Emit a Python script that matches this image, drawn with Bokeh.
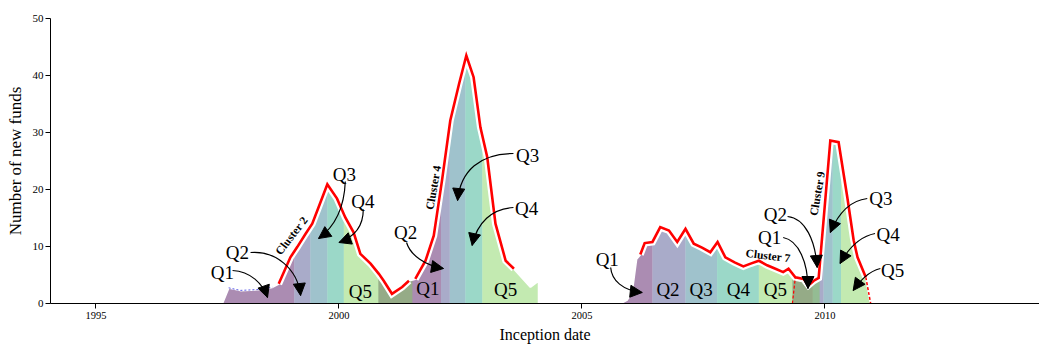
import numpy as np
from bokeh.plotting import figure
from bokeh.models import Range1d, FixedTicker, Arrow, NormalHead, ColumnDataSource
from bokeh.core.properties import value
from bokeh.embed import file_html
from bokeh.resources import INLINE

# ---------------- data ----------------
# number of new funds (total), 1997-2004 episode
dates_a = [1997.60, 1997.73, 1997.97, 1998.34, 1998.63, 1998.76, 1999.00, 1999.14, 1999.31,
           1999.45, 1999.58, 1999.76, 1999.96, 2000.13, 2000.30, 2000.44, 2000.65, 2000.82,
           2000.92, 2001.09, 2001.30, 2001.44, 2001.57, 2001.78, 2001.95, 2002.12, 2002.29,
           2002.47, 2002.62, 2002.77, 2002.91, 2003.05, 2003.22, 2003.43, 2003.60, 2003.94,
           2004.11, 2004.11]
counts_a = [0, 2.75, 2.3, 2.45, 2.86, 3.45, 8.1, 9.9, 12.2,
            14.0, 16.9, 20.9, 18.4, 15.1, 12.5, 8.7, 7.0, 5.2,
            4.0, 1.7, 2.9, 4.0, 4.3, 7.5, 11.9, 21.6, 32.1,
            38.5, 43.5, 39.7, 30.9, 25.7, 14.0, 7.5, 6.1, 2.9,
            4.0, 0]
# 2005-2011 episode
dates_b = [2005.79, 2005.93, 2006.03, 2006.07, 2006.12, 2006.20, 2006.29, 2006.45, 2006.61,
           2006.79, 2006.96, 2007.13, 2007.30, 2007.47, 2007.64, 2007.79, 2007.95, 2008.14,
           2008.32, 2008.47, 2008.64, 2008.81, 2008.98, 2009.14, 2009.25, 2009.39, 2009.56,
           2009.66, 2009.77, 2009.87, 2010.11, 2010.28, 2010.46, 2010.59, 2010.67, 2010.84,
           2010.94]
counts_b = [0, 0.65, 2.0, 4.6, 7.8, 8.6, 10.6, 10.8, 13.4,
            12.8, 10.8, 13.1, 10.5, 9.8, 9.0, 10.8, 8.1, 7.2,
            6.5, 7.0, 7.5, 6.7, 6.1, 5.5, 6.1, 4.6, 4.3,
            3.2, 4.0, 4.5, 28.6, 28.3, 18.6, 11.1, 8.1, 4.6,
            0]

# clusters: start, quintile boundaries, end (inception dates)
cluster_names = ["Cluster 2", "Cluster 4", "Cluster 7", "Cluster 9"]
cluster2_bounds = [1997.60, 1999.08, 1999.41, 1999.76, 2000.10, 2001.51]
cluster4_bounds = [2000.81, 2002.10, 2002.28, 2002.60, 2002.95, 2004.11]
cluster7_bounds = [2005.79, 2006.45, 2007.13, 2007.78, 2008.64, 2009.89]
cluster9_bounds = [2009.33, 2009.75, 2009.97, 2010.16, 2010.33, 2010.94]
quintiles = ["Q1", "Q2", "Q3", "Q4", "Q5"]
quintile_colors = ["#440154", "#414487", "#2A788E", "#22A884", "#7AD151"]

# periods in which the cluster's curve is drawn in red
red_windows = [(1998.76, 2001.44), (2001.57, 2003.60), (2006.20, 2010.84)]
blue_dashed_window = (1997.70, 1998.70)

# annotation labels (x, y in data units)
q_label_text = ["Q1", "Q2", "Q3", "Q4", "Q5",
                "Q1", "Q2", "Q3", "Q4", "Q5",
                "Q1", "Q2", "Q3", "Q4", "Q5",
                "Q1", "Q2", "Q3", "Q4", "Q5"]
q_label_x = [1997.60, 1997.91, 2000.11, 2000.49, 2000.44,
             2001.83, 2001.37, 2003.88, 2003.86, 2003.43,
             2005.52, 2006.77, 2007.45, 2008.22, 2008.98,
             2008.86, 2008.98, 2011.15, 2011.30, 2011.39]
q_label_y = [5.44, 8.95, 22.63, 17.81, 2.19,
             2.63, 12.46, 25.96, 16.67, 2.54,
             7.72, 2.46, 2.46, 2.46, 2.46,
             11.58, 15.61, 18.42, 12.19, 5.79]

cluster_label_x = [1999.02, 2001.94, 2008.83, 2009.84]
cluster_label_y = [11.93, 20.35, 8.42, 19.30]
cluster_label_angle_deg = [52, 80, -7, 80]

# curved arrows: start, control 1, control 2, tip
arrow_x0 = [1997.81, 1998.18, 2000.13, 2000.50, 2001.39, 2003.59, 2003.59, 2005.59, 2009.23, 2009.14, 2010.87, 2011.03, 2011.14]
arrow_y0 = [5.79, 8.95, 21.40, 16.49, 10.70, 26.32, 16.84, 6.32, 15.26, 11.58, 18.42, 12.28, 6.14]
arrow_cx0 = [1998.18, 1998.69, 2000.11, 2000.50, 2001.47, 2002.91, 2003.15, 2005.61, 2009.60, 2009.46, 2010.52, 2010.72, 2010.89]
arrow_cy0 = [5.61, 9.30, 17.19, 13.68, 8.42, 26.32, 16.67, 4.04, 14.91, 11.05, 18.07, 11.75, 5.61]
arrow_cx1 = [1998.43, 1999.15, 1999.95, 2000.34, 2001.78, 2002.50, 2002.84, 2005.84, 2009.80, 2009.65, 2010.28, 2010.48, 2010.73]
arrow_cy1 = [3.51, 6.14, 13.68, 11.75, 6.67, 23.33, 14.21, 2.28, 11.05, 7.19, 15.96, 9.65, 4.04]
arrow_x1 = [1998.53, 1999.21, 1999.58, 2000.00, 2002.15, 2002.44, 2002.74, 2006.24, 2009.84, 2009.65, 2010.11, 2010.31, 2010.58]
arrow_y1 = [1.05, 1.40, 11.40, 10.70, 6.14, 18.07, 10.18, 1.93, 6.32, 2.63, 12.46, 7.02, 2.28]

# ---------------- figure ----------------
Y_MAX = 50.0
FONT = "Liberation Serif"

p = figure(width=1039, height=347, output_backend="svg", toolbar_location=None,
           x_range=Range1d(1994.064, 2014.414), y_range=Range1d(0, Y_MAX),
           min_border_left=50, min_border_right=0, min_border_top=18, min_border_bottom=44)
p.outline_line_color = None
p.xgrid.visible = False
p.ygrid.visible = False
p.background_fill_color = "white"

sections = [(np.array(dates_a), np.array(counts_a)), (np.array(dates_b), np.array(counts_b))]
all_bounds = [cluster2_bounds, cluster4_bounds, cluster7_bounds, cluster9_bounds]
band_top = max(max(counts_a), max(counts_b)) + 3

# quintile bands (masked above the curve); Q1 drawn first, Q5 last
for q in range(5):
    p.quad(left=[b[q] for b in all_bounds], right=[b[q + 1] for b in all_bounds],
           bottom=0, top=band_top, fill_color=quintile_colors[q], fill_alpha=0.45,
           line_color=None)

# white mask above the curve
for d, c in sections:
    mx = list(d) + [d[-1], d[0]]
    my = list(c) + [2 * Y_MAX, 2 * Y_MAX]
    p.patch(mx, my, fill_color="white", line_color="white", line_width=2)

# blue dashed edge at the start of cluster 2
for d, c in sections:
    m = (d >= blue_dashed_window[0]) & (d <= blue_dashed_window[1])
    if m.sum() > 1:
        p.line(d[m], c[m], line_color="#5a5ae6", line_width=1, line_dash="2 2")

# red curves with a white halo
for (w0, w1) in red_windows:
    for d, c in sections:
        m = (d >= w0) & (d <= w1)
        if m.sum() > 1:
            p.line(d[m], c[m], line_color="white", line_width=7, line_join="miter")
            p.line(d[m], c[m], line_color="#ff0000", line_width=2.6, line_join="miter")

# red dashed edges of cluster 9
db, cb = sections[1]
i_start = int(np.searchsorted(db, cluster9_bounds[0]))
p.line([cluster9_bounds[0], db[i_start]], [0, cb[i_start]], line_color="#ff0000",
       line_width=1.2, line_dash="3 2")
p.line(db[-2:], cb[-2:], line_color="#ff0000", line_width=1.5, line_dash="3 2")

# arrows
p.bezier(x0=arrow_x0, y0=arrow_y0, x1=arrow_x1, y1=arrow_y1,
         cx0=arrow_cx0, cy0=arrow_cy0, cx1=arrow_cx1, cy1=arrow_cy1,
         line_color="black", line_width=1.2)
ax1 = np.array(arrow_x1); ay1 = np.array(arrow_y1)
acx = np.array(arrow_cx1); acy = np.array(arrow_cy1)
head_src = ColumnDataSource(dict(xs=ax1 - 0.25 * (ax1 - acx), ys=ay1 - 0.25 * (ay1 - acy),
                                 xe=ax1, ye=ay1))
p.add_layout(Arrow(end=NormalHead(size=12, fill_color="black", line_color="black", line_width=1),
                   source=head_src, x_start="xs", y_start="ys", x_end="xe", y_end="ye",
                   line_color="black", line_width=1.2))

# labels
p.text(x=q_label_x, y=q_label_y, text=q_label_text, text_font=value(FONT),
       text_font_size="19px", text_align="center", text_baseline="middle", text_color="black")
p.text(x=cluster_label_x, y=cluster_label_y, text=cluster_names, text_font=value(FONT),
       text_font_size="11.5px", text_font_style="bold", text_align="center",
       text_baseline="middle", text_color="black",
       angle=[np.deg2rad(a) for a in cluster_label_angle_deg])

# axes
p.xaxis.ticker = FixedTicker(ticks=[1995, 2000, 2005, 2010])
p.yaxis.ticker = FixedTicker(ticks=[0, 10, 20, 30, 40, 50])
for ax in (p.xaxis, p.yaxis):
    ax.minor_tick_line_color = None
    ax.major_tick_in = 0
    ax.major_tick_out = 5
    ax.axis_line_color = "black"
    ax.major_tick_line_color = "black"
    ax.major_label_text_font = FONT
    ax.major_label_text_color = "black"
    ax.axis_label_text_font = FONT
    ax.axis_label_text_font_style = "normal"
    ax.axis_label_text_color = "black"
p.xaxis.major_label_text_font_size = "10.5px"
p.yaxis.major_label_text_font_size = "11px"
p.xaxis.major_label_standoff = 3
p.yaxis.major_label_standoff = 2
p.xaxis.axis_label_standoff = 4
p.yaxis.axis_label_standoff = 5
p.xaxis.axis_label = "Inception date"
p.yaxis.axis_label = "Number of new funds"
p.xaxis.axis_label_text_font_size = "16px"
p.yaxis.axis_label_text_font_size = "17px"

open("out.html", "w").write(file_html(p, INLINE))
